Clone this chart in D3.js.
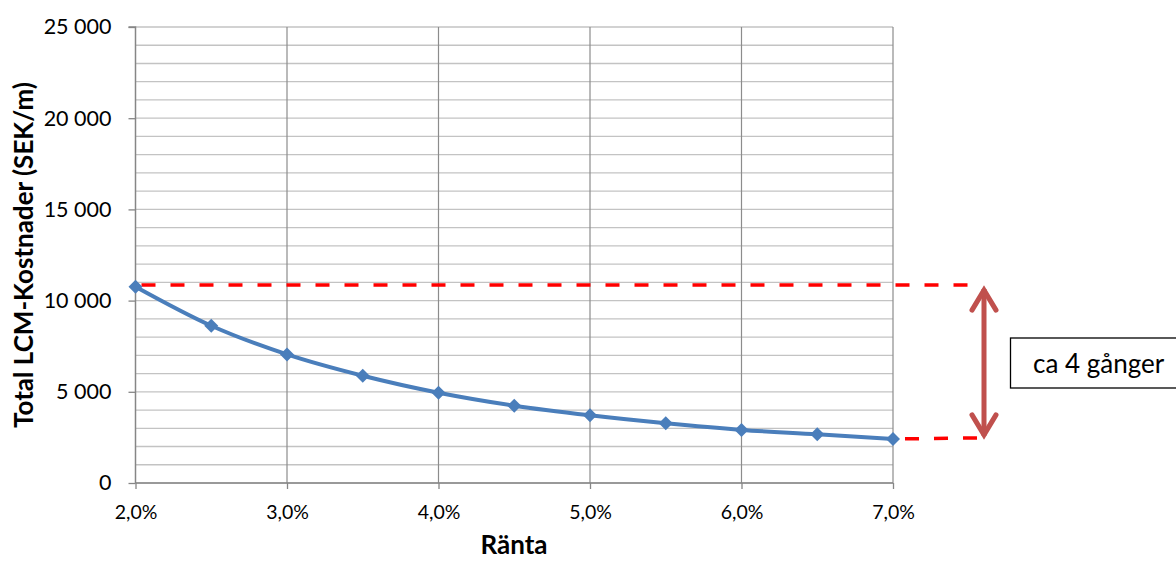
<!DOCTYPE html>
<html><head><meta charset="utf-8">
<script src="https://cdn.jsdelivr.net/npm/d3@7/dist/d3.min.js"></script>
<style>body{margin:0;background:#fff;} svg{display:block;}</style>
</head><body>
<svg id="c" width="1176" height="561"></svg>
<script>
const rates = [2.0, 2.5, 3.0, 3.5, 4.0, 4.5, 5.0, 5.5, 6.0, 6.5, 7.0];
const costs = [10760, 8620, 7050, 5880, 4950, 4240, 3710, 3270, 2910, 2670, 2410];
const xTicks = [2.0, 3.0, 4.0, 5.0, 6.0, 7.0];
const yTicks = [0, 5000, 10000, 15000, 20000, 25000];
const yGrid = d3.range(0, 25001, 1000);
const refTop = 10850;
const refBottom = 2420;
const xTitle = "Ränta";
const yTitle = "Total LCM-Kostnader (SEK/m)";
const note = "ca 4 gånger";

const font = "Lato, 'Open Sans', sans-serif";
const svg = d3.select("#c");
const x = d3.scaleLinear().domain([2, 7]).range([135.5, 893]);
const y = d3.scaleLinear().domain([0, 25000]).range([483, 27]);

// horizontal grid
svg.append("g").selectAll("line").data(yGrid).join("line")
  .attr("x1", x(2)).attr("x2", x(7))
  .attr("y1", d => y(d)).attr("y2", d => y(d))
  .attr("stroke", "#c3c3c3").attr("stroke-width", 1.3);
// vertical grid
svg.append("g").selectAll("line").data(xTicks.slice(1)).join("line")
  .attr("x1", d => x(d)).attr("x2", d => x(d))
  .attr("y1", y(0)).attr("y2", y(25000))
  .attr("stroke", "#8c8c8c").attr("stroke-width", 1.2);

// axes
const yAxis = d3.axisLeft(y).tickValues(yTicks).tickSize(7).tickPadding(17)
  .tickFormat(d => d === 0 ? "0" : (d/1000) + " 000");
const gy = svg.append("g").attr("transform", `translate(${x(2)},0)`).call(yAxis);
gy.select(".domain").attr("stroke", "#868686").attr("stroke-width", 1.5).attr("d", `M-7,${y(25000)}H0V${y(0)}`);
gy.selectAll(".tick line").attr("stroke", "#868686").attr("stroke-width", 1.3);
gy.selectAll("text").attr("font-family", font).attr("font-size", 21.5).attr("fill", "#000");

const xAxis = d3.axisBottom(x).tickValues(xTicks).tickSize(6).tickPadding(16)
  .tickFormat(d => d3.format(".1f")(d).replace(".", ",") + "%");
const gx = svg.append("g").attr("transform", `translate(0,${y(0)})`).call(xAxis);
gx.select(".domain").attr("stroke", "#868686").attr("stroke-width", 1.5).attr("d", `M${x(2)},0H${x(7)}`);
gx.selectAll(".tick line").attr("stroke", "#868686").attr("stroke-width", 1.3);
gx.selectAll("text").attr("font-family", font).attr("font-size", 19.5).attr("fill", "#000");

// titles
svg.append("text").attr("x", 514).attr("y", 554).attr("text-anchor", "middle")
  .attr("font-family", font).attr("font-weight", "bold").attr("font-size", 26).text(xTitle);
svg.append("text").attr("transform", `translate(33,255) rotate(-90)`)
  .attr("text-anchor", "middle").attr("font-family", font).attr("font-weight", "bold")
  .attr("font-size", 26).text(yTitle);

// red dashed reference lines
const arrowX = 984;
svg.append("line").attr("x1", x(2) + 6).attr("x2", arrowX - 3)
  .attr("y1", y(refTop)).attr("y2", y(refTop))
  .attr("stroke", "#ff0000").attr("stroke-width", 3.5).attr("stroke-dasharray", "14,15");
svg.append("line").attr("x1", x(7) + 12).attr("x2", arrowX - 3)
  .attr("y1", y(refBottom)).attr("y2", y(refBottom) - 1)
  .attr("stroke", "#ff0000").attr("stroke-width", 3.5).attr("stroke-dasharray", "14,15");

// data line
const line = d3.line().x((d, i) => x(rates[i])).y(d => y(d)).curve(d3.curveMonotoneX);
svg.append("path").datum(costs).attr("d", line).attr("fill", "none")
  .attr("stroke", "#4a7ebb").attr("stroke-width", 4);
svg.append("g").selectAll("path").data(costs).join("path")
  .attr("d", "M0,-7L7,0L0,7L-7,0Z")
  .attr("transform", (d, i) => `translate(${x(rates[i])},${y(d)})`)
  .attr("fill", "#4a7ebb");

// double arrow
const ay1 = y(refTop) + 2, ay2 = y(refBottom) - 1;
const ac = "#c0504d";
svg.append("line").attr("x1", arrowX).attr("x2", arrowX).attr("y1", ay1 + 2).attr("y2", ay2 - 2)
  .attr("stroke", ac).attr("stroke-width", 5);
svg.append("path").attr("d", `M${arrowX-12},${ay1+23}L${arrowX},${ay1+3}L${arrowX+12},${ay1+23}`)
  .attr("fill", "none").attr("stroke", ac).attr("stroke-width", 5).attr("stroke-linecap", "round").attr("stroke-linejoin", "miter");
svg.append("path").attr("d", `M${arrowX-12},${ay2-23}L${arrowX},${ay2-3}L${arrowX+12},${ay2-23}`)
  .attr("fill", "none").attr("stroke", ac).attr("stroke-width", 5).attr("stroke-linecap", "round").attr("stroke-linejoin", "miter");

// note box
svg.append("rect").attr("x", 1010.5).attr("y", 338).attr("width", 180).attr("height", 50)
  .attr("fill", "#fff").attr("stroke", "#000").attr("stroke-width", 1.3);
svg.append("text").attr("x", 1033).attr("y", 373).attr("font-family", font)
  .attr("font-size", 26).text(note);
</script>
</body></html>
